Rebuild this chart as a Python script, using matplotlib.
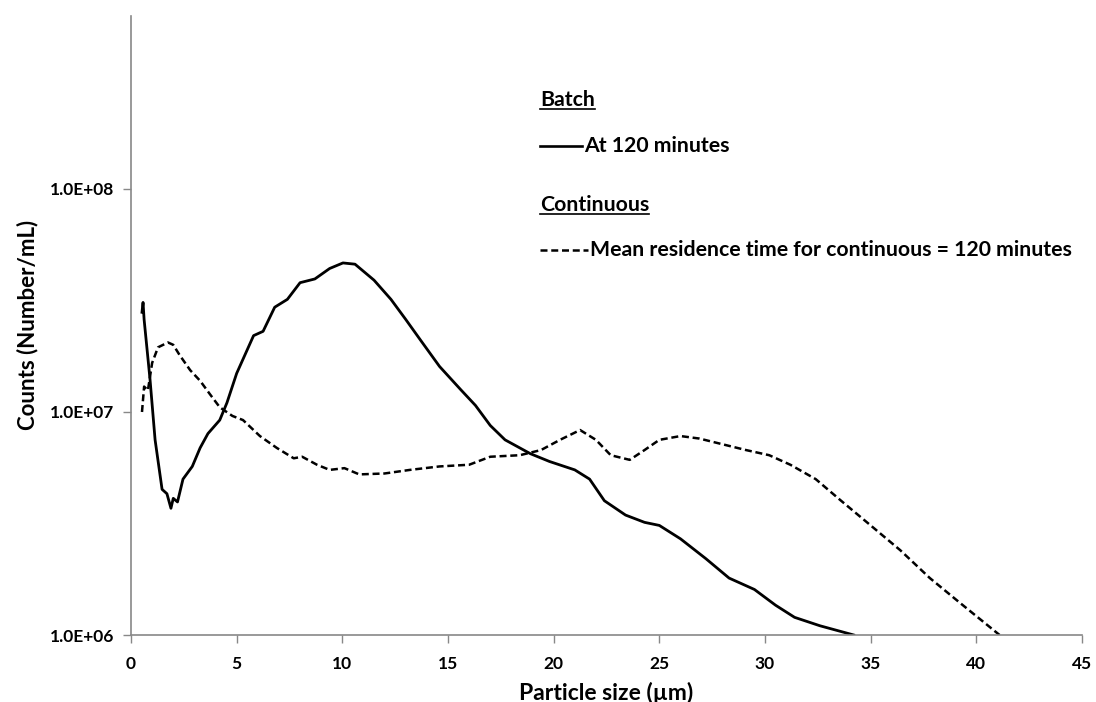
import matplotlib
matplotlib.use("Agg")
import matplotlib.pyplot as plt
import numpy as np

plt.rcParams['font.family'] = ['Lato', 'DejaVu Sans']

# Batch at 120 minutes
batch_x = [0.52, 0.57, 0.62, 0.9, 1.14, 1.47, 1.7, 1.89, 2.0, 2.2, 2.46, 2.9, 3.27, 3.64,
           4.2, 4.54, 5.0, 5.8, 6.25, 6.8, 7.4, 8.0, 8.7, 9.4, 10.03, 10.6, 11.5, 12.3,
           13.0, 13.7, 14.6, 15.6, 16.3, 17.0, 17.7, 18.9, 19.8, 21.0, 21.7, 22.4, 23.4,
           24.3, 25.0, 26.0, 27.2, 28.3, 29.5, 30.5, 31.4, 32.6, 34.2]
batch_y = [2.8e7, 3.1e7, 2.6e7, 1.4e7, 7.5e6, 4.5e6, 4.3e6, 3.7e6, 4.1e6, 3.95e6, 5.0e6,
           5.7e6, 6.9e6, 8.0e6, 9.2e6, 1.1e7, 1.49e7, 2.2e7, 2.3e7, 2.95e7, 3.2e7, 3.8e7,
           3.95e7, 4.4e7, 4.66e7, 4.6e7, 3.9e7, 3.2e7, 2.6e7, 2.1e7, 1.6e7, 1.26e7, 1.07e7,
           8.7e6, 7.5e6, 6.5e6, 6.0e6, 5.5e6, 5.0e6, 4.0e6, 3.45e6, 3.2e6, 3.1e6, 2.7e6,
           2.2e6, 1.8e6, 1.6e6, 1.36e6, 1.2e6, 1.1e6, 1.0e6]

# Continuous, mean residence time 120 minutes
cont_x = [0.52, 0.62, 0.8, 1.0, 1.28, 1.75, 2.0, 2.3, 2.8, 3.27, 3.74, 4.2, 4.8, 5.3, 6.1,
          6.9, 7.7, 8.1, 8.8, 9.4, 10.1, 10.8, 12.0, 13.2, 14.6, 16.0, 17.0, 18.4, 19.4,
          20.3, 21.25, 22.0, 22.7, 23.6, 24.3, 25.0, 26.0, 26.9, 27.9, 29.1, 30.2, 31.2,
          32.4, 33.6, 35.0, 36.4, 37.8, 39.2, 41.1]
cont_y = [1.0e7, 1.3e7, 1.25e7, 1.66e7, 1.95e7, 2.05e7, 2.0e7, 1.8e7, 1.54e7, 1.38e7, 1.2e7,
          1.05e7, 9.6e6, 9.2e6, 7.8e6, 6.9e6, 6.2e6, 6.3e6, 5.8e6, 5.5e6, 5.6e6, 5.25e6,
          5.3e6, 5.5e6, 5.7e6, 5.8e6, 6.3e6, 6.4e6, 6.75e6, 7.5e6, 8.3e6, 7.5e6, 6.4e6,
          6.1e6, 6.75e6, 7.5e6, 7.8e6, 7.6e6, 7.2e6, 6.75e6, 6.4e6, 5.8e6, 5.0e6, 4.0e6,
          3.1e6, 2.4e6, 1.8e6, 1.4e6, 1.0e6]

x_ticks = [0, 5, 10, 15, 20, 25, 30, 35, 40, 45]
y_ticks = [1e6, 1e7, 1e8]
y_tick_labels = ['1.0E+06', '1.0E+07', '1.0E+08']

fig = plt.figure(figsize=(10.96, 7.02), dpi=100)
ax = fig.add_axes([131/1096, (702-635)/702, 951/1096, 619.3/702])

ax.plot(batch_x, batch_y, color='black', lw=2.0, solid_joinstyle='round')
ax.plot(cont_x, cont_y, color='black', lw=1.8, linestyle=(0, (2.8, 1.5)))

ax.set_yscale('log')
ax.set_xlim(0, 45)
ax.set_ylim(1e6, 10**8.777)
ax.set_xticks(x_ticks)
ax.set_xticklabels([str(t) for t in x_ticks], fontweight='bold', fontsize=12.5)
ax.set_yticks(y_ticks)
ax.set_yticklabels(y_tick_labels, fontweight='bold', fontsize=12.5)
ax.yaxis.set_minor_locator(matplotlib.ticker.NullLocator())
ax.tick_params(axis='both', direction='out', length=6, width=1, color='#888888', pad=6)
ax.tick_params(axis='x', pad=9)
for s in ['top', 'right']:
    ax.spines[s].set_visible(False)
for s in ['left', 'bottom']:
    ax.spines[s].set_color('#888888')
    ax.spines[s].set_linewidth(1.2)

ax.set_xlabel('Particle size (µm)', fontweight='bold', fontsize=16.5, labelpad=7)
ax.set_ylabel('Counts (Number/mL)', fontweight='bold', fontsize=16, labelpad=8)

def fx(px):
    return (px - 131) / 951
def fy(py):
    return (635 - py) / 619.3

fs = 15.3
t1 = ax.text(fx(540), fy(100), 'Batch', transform=ax.transAxes, fontweight='bold', fontsize=fs, va='center', ha='left')
ax.plot([fx(540), fx(582)], [fy(146), fy(146)], transform=ax.transAxes, color='black', lw=1.9, clip_on=False)
ax.text(fx(584), fy(146), 'At 120 minutes', transform=ax.transAxes, fontweight='bold', fontsize=fs, va='center', ha='left')
t2 = ax.text(fx(540), fy(205), 'Continuous', transform=ax.transAxes, fontweight='bold', fontsize=fs, va='center', ha='left')
ax.plot([fx(540), fx(588)], [fy(250), fy(250)], transform=ax.transAxes, color='black', lw=1.8, linestyle=(0, (2.8, 1.5)), clip_on=False)
ax.text(fx(590), fy(250), 'Mean residence time for continuous = 120 minutes', transform=ax.transAxes, fontweight='bold', fontsize=fs, va='center', ha='left')

fig.canvas.draw()
r = fig.canvas.get_renderer()
inv = ax.transAxes.inverted()
for t in (t1, t2):
    bb = t.get_window_extent(r)
    (x0, y0) = inv.transform((bb.x0, bb.y0 + 1))
    (x1, _) = inv.transform((bb.x1, bb.y0 + 1))
    ax.plot([x0, x1], [y0, y0], transform=ax.transAxes, color='black', lw=1.2, clip_on=False)

fig.savefig('out.png', dpi=100)
